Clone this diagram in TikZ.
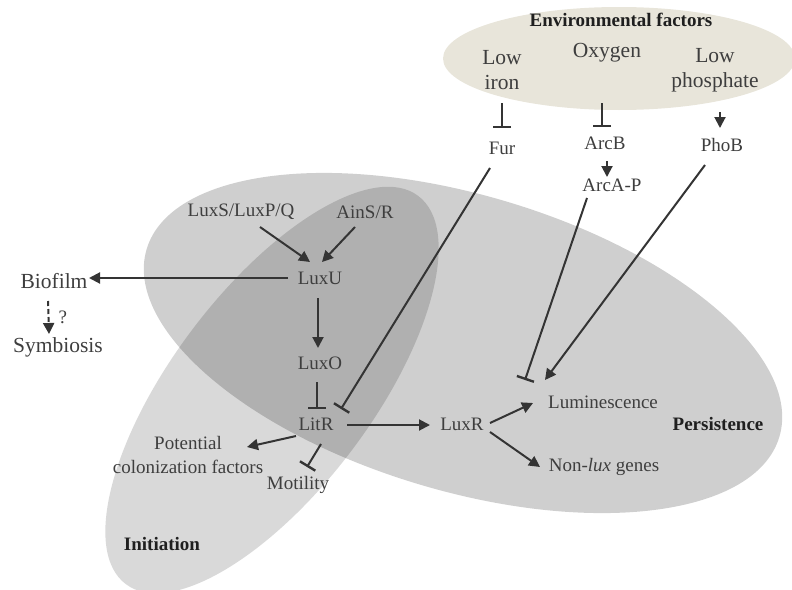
\documentclass[tikz,border=0pt]{standalone}
\usepackage{fontspec}
\setmainfont{Liberation Serif}
\usetikzlibrary{arrows.meta}
\definecolor{envbeige}{RGB}{232,229,218}
\definecolor{textgray}{RGB}{62,62,62}
\definecolor{linegray}{RGB}{52,52,52}

\begin{document}
\begin{tikzpicture}[x=1pt,y=-1pt,
  lbl/.style={text=textgray,font=\fontsize{19}{24}\selectfont,inner sep=0pt,align=center},
  biglbl/.style={text=textgray,font=\fontsize{21.5}{25}\selectfont,inner sep=0pt,align=center},
  boldlbl/.style={text=black!88,font=\fontsize{19}{23}\selectfont\bfseries,inner sep=0pt},
  act/.style={draw=linegray,line width=2pt,-{Triangle[length=11pt,width=11pt]}},
  inh/.style={draw=linegray,line width=2pt,-{Bar[width=18pt,line width=2.4pt]}}]
% Fix the picture size
\useasboundingbox (0,0) rectangle (792,589);
\clip (0,0) rectangle (792,589);
% Draw the regions
\fill[envbeige] (619,58.5) ellipse [x radius=176, y radius=51.5];
\fill[black,opacity=0.19,rotate around={-16.5:(463,343)}] (463,343) ellipse [x radius=330, y radius=148];
\fill[black,opacity=0.15,rotate around={53:(272,390)}] (272,390) ellipse [x radius=243, y radius=100];
% Environmental factors
\node[boldlbl] (envtitle) at (621,20) {Environmental factors};
\node[biglbl] (iron) at (502,70) {Low\\iron};
\node[biglbl] (oxygen) at (607,53) {Oxygen};
\node[biglbl] (phos) at (715,70) {Low\\phosphate};
\node[lbl] (fur) at (502,148) {Fur};
\node[lbl] (arcb) at (605,143) {ArcB};
\node[lbl] (arca) at (612,185) {ArcA-P};
\node[lbl] (phob) at (722,145) {PhoB};
% Quorum sensing cascade
\node[lbl] (luxsp) at (241,212) {LuxS/LuxP/Q};
\node[lbl] (ains) at (365,212) {AinS/R};
\node[lbl] (luxu) at (320,278) {LuxU};
\node[lbl] (luxo) at (320,363) {LuxO};
\node[lbl] (litr) at (316,424) {LitR};
\node[lbl] (luxr) at (462,424) {LuxR};
\node[lbl] (lum) at (603,402) {Luminescence};
\node[lbl] (nonlux) at (604,467) {Non-\textit{lux} genes};
\node[lbl] (potential) at (188,455) {Potential\\colonization factors};
\node[lbl] (motility) at (298,485) {Motility};
\node[biglbl] (biofilm) at (54,281) {Biofilm};
\node[biglbl] (symb) at (58,347) {Symbiosis};
% Region labels
\node[boldlbl] (persist) at (718,424) {Persistence};
\node[boldlbl] (init) at (162,544) {Initiation};
% Environmental signals
\draw[inh] ([shift={(0,33)}]iron.center) -- ([shift={(0,-20)}]fur.center);
\draw[inh] ([shift={(-5,50)}]oxygen.center) -- ([shift={(-3,-16)}]arcb.center);
\draw[act] ([shift={(5,42)}]phos.center) -- ([shift={(-2,-17)}]phob.center);
\draw[act] ([shift={(2,18)}]arcb.center) -- ([shift={(-5,-8)}]arca.center);
\draw[inh] ([shift={(-12,20)}]fur.center) -- ([shift={(25,-15)}]litr.center);
\draw[inh] ([shift={(-25,13)}]arca.center) -- ([shift={(-78,-22)}]lum.center);
\draw[act] ([shift={(-17,20)}]phob.center) -- ([shift={(-58,-22)}]lum.center);
% Cascade
\draw[act] ([shift={(19,15)}]luxsp.center) -- ([shift={(-10,-16)}]luxu.center);
\draw[act] ([shift={(-10,15)}]ains.center) -- ([shift={(2,-16)}]luxu.center);
\draw[act] ([shift={(-32,0)}]luxu.center) -- ([shift={(35,-3)}]biofilm.center);
\draw[act,dash pattern=on 5pt off 3pt] ([shift={(-6,20)}]biofilm.center) -- ([shift={(-9,-13)}]symb.center)
  node[lbl,midway,right=9pt] (quest) {?};
\draw[act] ([shift={(-2,20)}]luxu.center) -- ([shift={(-2,-15)}]luxo.center);
\draw[inh] ([shift={(-3,19)}]luxo.center) -- ([shift={(1,-15)}]litr.center);
\draw[act] ([shift={(31,1)}]litr.center) -- ([shift={(-32,1)}]luxr.center);
\draw[act] ([shift={(-20,12)}]litr.center) -- ([shift={(59,-8)}]potential.center);
\draw[inh] ([shift={(5,20)}]litr.center) -- ([shift={(9,-18)}]motility.center);
\draw[act] ([shift={(28,-1)}]luxr.center) -- ([shift={(-70,1)}]lum.center);
\draw[act] ([shift={(28,8)}]luxr.center) -- ([shift={(-64,0)}]nonlux.center);
\end{tikzpicture}
\end{document}
